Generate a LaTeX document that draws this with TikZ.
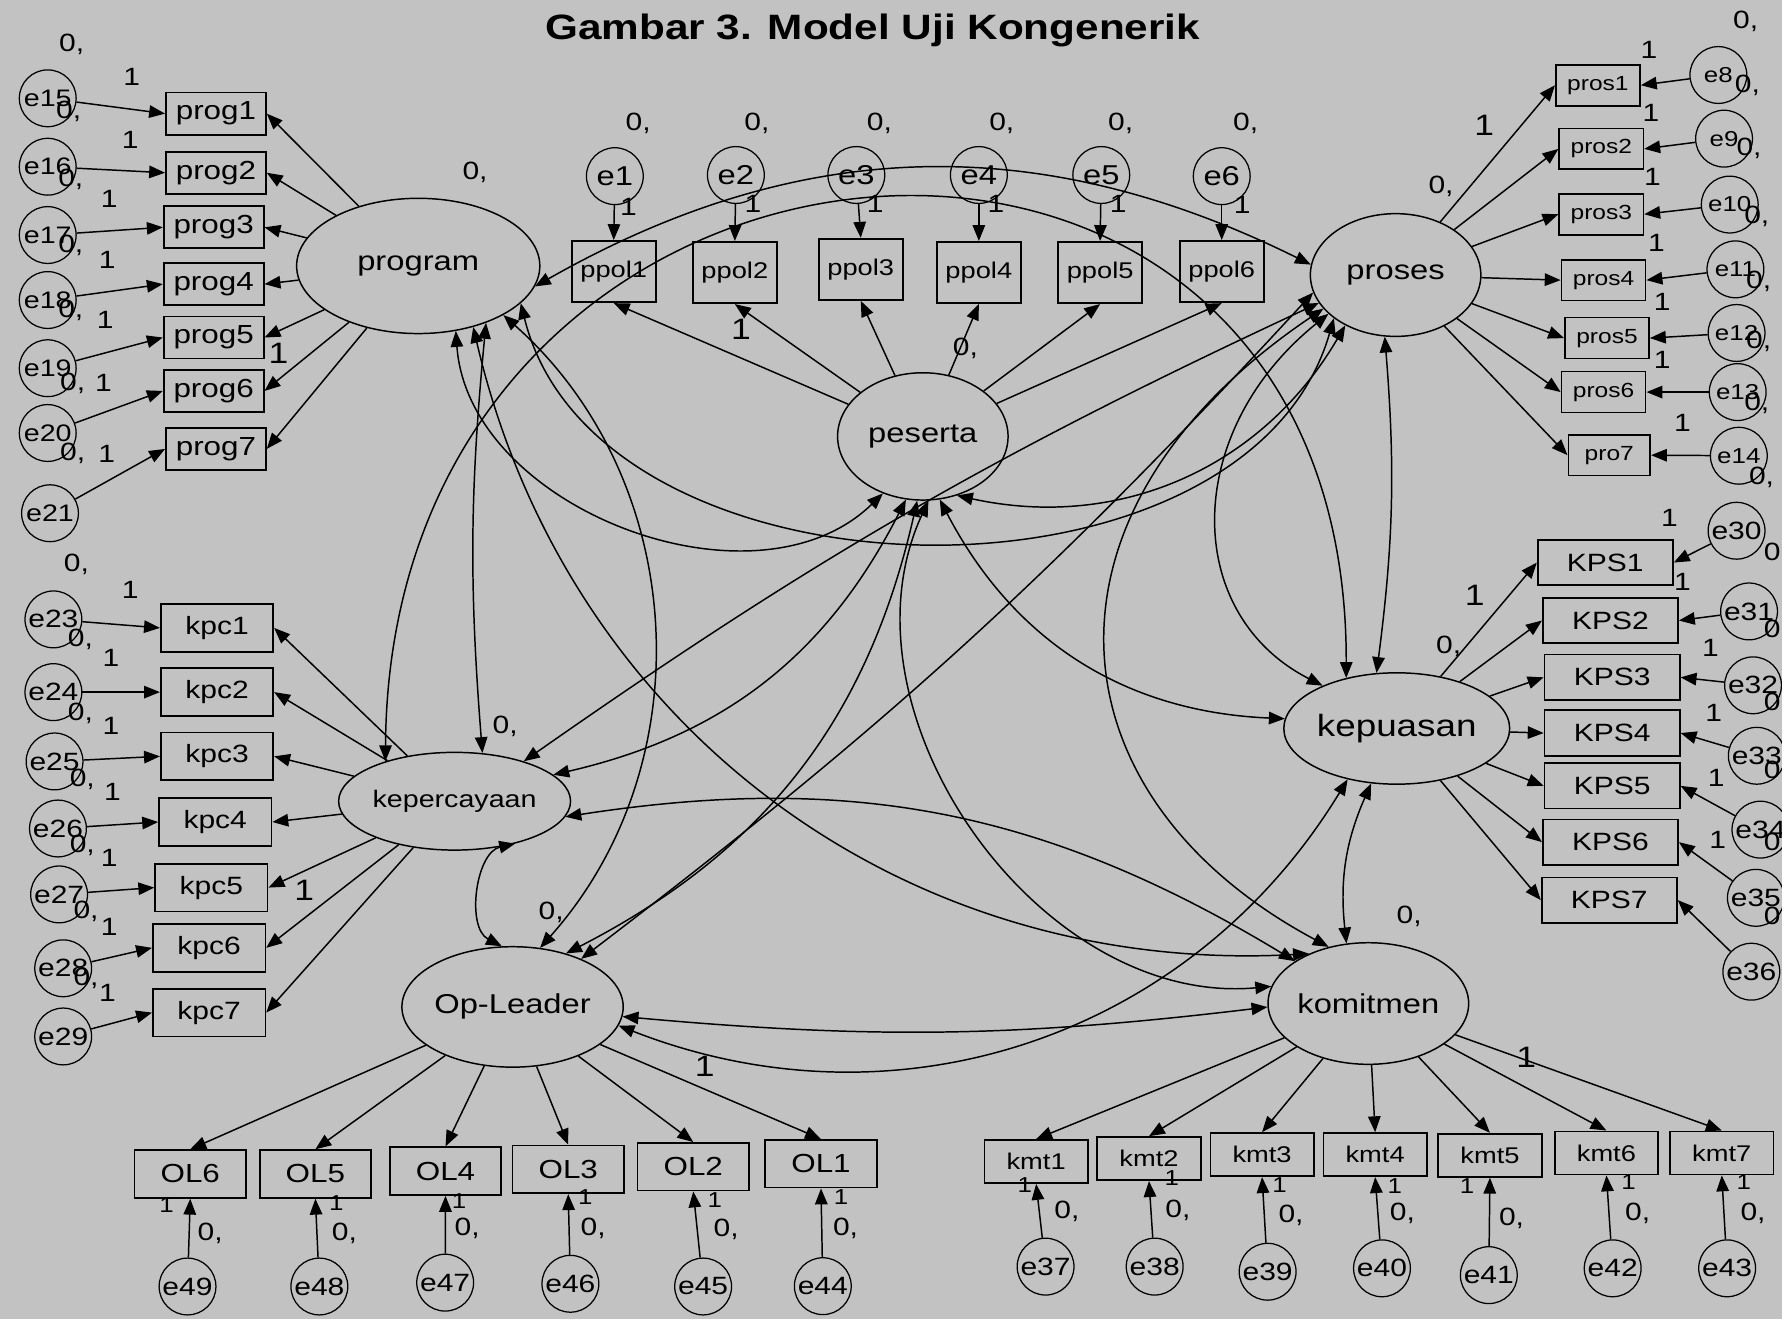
\documentclass[tikz,border=0pt]{standalone}
\usepackage{fontspec}
\setmainfont{Liberation Sans}[FakeStretch=1.2]
\usetikzlibrary{arrows.meta,shapes.geometric}
\definecolor{bg}{RGB}{194,194,194}
\newcommand\myfs[1]{\fontsize{#1}{#1}\selectfont}
\tikzset{
  lat/.style={ellipse,draw,line width=1.3pt,inner sep=0pt},
  obs/.style={rectangle,draw,line width=1.5pt,inner sep=0pt},
  err/.style={circle,draw,line width=1.1pt,minimum size=50pt,inner sep=0pt},
  ld/.style={-{Triangle[length=14pt,width=11pt]},line width=1.3pt},
  cov/.style={{Triangle[length=14pt,width=11pt]}-{Triangle[length=14pt,width=11pt]},line width=1.3pt},
  lab/.style={inner sep=0pt,font=\myfs{22}},
  labe/.style={inner sep=0pt,anchor=east,font=\myfs{22}},
  labb/.style={inner sep=0pt,font=\myfs{26}},
  labs/.style={inner sep=0pt,font=\myfs{19}},
}
\begin{document}
\begin{tikzpicture}[x=1pt,y=-1pt]
\path[fill=bg,use as bounding box] (0,0) rectangle (1568,1161);
\node[font=\bfseries\myfs{31}] (title) at (768,27) {Gambar 3. Model Uji Kongenerik};

% latent variables
\node[lat,minimum width=214pt,minimum height=119pt,font=\myfs{24}] (P) at (368,234) {program};
\node[lat,minimum width=150pt,minimum height=112pt,font=\myfs{24}] (S) at (812,384) {peserta};
\node[lat,minimum width=150pt,minimum height=108pt,font=\myfs{24}] (R) at (1228,242) {proses};
\node[lat,minimum width=176pt,minimum height=86pt,font=\myfs{21}] (K) at (400,705) {kepercayaan};
\node[lat,minimum width=172pt,minimum height=98pt,font=\myfs{27}] (Q) at (1229,641) {kepuasan};
\node[lat,minimum width=148pt,minimum height=106pt,font=\myfs{24}] (O) at (451,886) {Op-Leader};
\node[lat,minimum width=147pt,minimum height=107pt,font=\myfs{24}] (M) at (1204,883) {komitmen};

% observed boxes
\foreach \n/\x/\y in {1/190/100,2/190/152,3/188/200,4/188/250,5/188/297,6/188/344,7/190/395}
  \node[obs,minimum width=88pt,minimum height=37pt,font=\myfs{23}] (prog\n) at (\x,\y) {prog\n};
\foreach \n/\x/\y in {1/540/239,2/646.6/239.8,3/757.4/237,4/861.3/239.8,5/968/239.8,6/1075/239}
  \node[obs,minimum width=74pt,minimum height=54pt,font=\myfs{20}] (ppol\n) at (\x,\y) {ppol\n};
\foreach \n/\x/\y in {1/1406/75,2/1409/131,3/1409/188.5,4/1411/246.5,5/1414/297.5,6/1411/345}
  \node[obs,minimum width=74pt,minimum height=36pt,font=\myfs{18}] (pros\n) at (\x,\y) {pros\n};
\node[obs,minimum width=72pt,minimum height=36pt,font=\myfs{18}] (pros7) at (1416,400.5) {pro7};
\foreach \n/\x/\y in {1/191/552.5,2/191/609,3/191/665.5,4/189.4/723.3,5/186/781,6/184/834,7/184/891}
  \node[obs,minimum width=99pt,minimum height=42pt,font=\myfs{22}] (kpc\n) at (\x,\y) {kpc\n};
\foreach \n/\x/\y in {1/1412.5/495,2/1417/546,3/1418.5/596,4/1418.5/645,5/1418.5/691.5,6/1417/741,7/1416/792}
  \node[obs,minimum width=119pt,minimum height=40pt,font=\myfs{22}] (kps\n) at (\x,\y) {KPS\n};
\foreach \n/\x/\y in {1/722.4/1024,2/610/1026.6,3/500/1029,4/392/1030.5,5/277.5/1033,6/167.4/1033}
  \node[obs,minimum width=98pt,minimum height=42pt,font=\myfs{23}] (ol\n) at (\x,\y) {OL\n};
\foreach \n/\x/\y in {1/911.7/1022,2/1011/1019.5,3/1110.5/1016,4/1210/1016,5/1311/1016.5,6/1413.5/1014.5,7/1515/1014.5}
  \node[obs,minimum width=91pt,minimum height=38pt,font=\myfs{20}] (kmt\n) at (\x,\y) {kmt\n};

% error terms
\foreach \n/\x/\y in {15/42/86.5,16/42/146.7,17/42/206.8,18/42/264,19/42/324,20/42/381,21/44/451.6}
  \node[err,font=\myfs{21}] (e\n) at (\x,\y) {e\n};
\foreach \n/\x/\y in {1/541/155,2/647.5/154,3/753.5/154,4/861.3/154,5/969/154,6/1075/155}
  \node[err,font=\myfs{24}] (e\n) at (\x,\y) {e\n};
\foreach \n/\x/\y in {8/1512/66,9/1517/122,10/1522/180,11/1527/237,12/1528/293,13/1529/345,14/1530/401}
  \node[err,font=\myfs{19}] (e\n) at (\x,\y) {e\n};
\foreach \n/\x/\y in {23/47/545,24/47/609,25/48/670,26/51/729,27/52/787,28/55.6/852,29/55.6/912}
  \node[err,font=\myfs{22}] (e\n) at (\x,\y) {e\n};
\foreach \n/\x/\y in {30/1528/467,31/1539/538,32/1542.5/603,33/1545.8/665,34/1549/730,35/1545/790,36/1541/855}
  \node[err,font=\myfs{22}] (e\n) at (\x,\y) {e\n};
\foreach \n/\x/\y in {44/724/1131.7,45/618.7/1132,46/501.9/1129.6,47/391.7/1128.6,48/281/1132,49/165/1132}
  \node[err,font=\myfs{22}] (e\n) at (\x,\y) {e\n};
\foreach \n/\x/\y in {37/920/1114.5,38/1016/1114.5,39/1115.4/1119,40/1216/1116,41/1310/1122,42/1419/1116,43/1519.7/1116}
  \node[err,font=\myfs{22}] (e\n) at (\x,\y) {e\n};

% loadings
\foreach \b in {1,...,7} \draw[ld] (P) -- (prog\b.east);
\foreach \b in {1,...,6} \draw[ld] (S) -- (ppol\b.south);
\foreach \b in {1,...,7} \draw[ld] (R) -- (pros\b.west);
\foreach \b in {1,...,7} \draw[ld] (K) -- (kpc\b.east);
\foreach \b in {1,...,7} \draw[ld] (Q) -- (kps\b.west);
\foreach \b in {1,...,6} \draw[ld] (O) -- (ol\b.north);
\foreach \b in {1,...,7} \draw[ld] (M) -- (kmt\b.north);

% error paths
\foreach \e/\b in {15/1,16/2,17/3,18/4,19/5,20/6,21/7} \draw[ld] (e\e) -- (prog\b.west);
\foreach \b in {1,...,6} \draw[ld] (e\b) -- (ppol\b.north);
\foreach \e/\b in {8/1,9/2,10/3,11/4,12/5,13/6,14/7} \draw[ld] (e\e) -- (pros\b.east);
\foreach \e/\b in {23/1,24/2,25/3,26/4,27/5,28/6,29/7} \draw[ld] (e\e) -- (kpc\b.west);
\foreach \e/\b in {30/1,31/2,32/3,33/4,34/5,35/6,36/7} \draw[ld] (e\e) -- (kps\b.east);
\foreach \e/\b in {44/1,45/2,46/3,47/4,48/5,49/6} \draw[ld] (e\e) -- (ol\b.south);
\foreach \e/\b in {37/1,38/2,39/3,40/4,41/5,42/6,43/7} \draw[ld] (e\e) -- (kmt\b.south);

% covariances
\draw[cov] (P.-10) to[bend left=28] (R.173);
\draw[cov] (K.150) .. controls (343,60) and (1186,-10) .. (Q.135);
\draw[cov] (K.-35) to[bend right=70] (O.100);
\draw[cov] (P.-60) to[bend right=65] (S.-125);
\draw[cov] (P.-40) to[bend right=5] (K.60);
\draw[cov] (P.-30) to[bend left=45] (O.65);
\draw[cov] (P.-48) to[bend right=40] (M.140);
\draw[cov] (P.-20) to[bend right=75] (R.-145);
\draw[cov] (S.-60) to[bend right=36] (R.-135);
\draw[cov] (S.-105) to[bend left=25] (K.15);
\draw[cov] (S.-95) to[bend left=25] (O.45);
\draw[cov] (S.-75) to[bend right=30] (Q.175);
\draw[cov] (S.-85) to[bend right=60] (M.170);
\draw[cov] (R.-100) to[bend left=6] (Q.110);
\draw[cov] (R.-150) .. controls (1040,380) and (1040,540) .. (Q.150);
\draw[cov] (R.-160) to[bend right=5] (K.30);
\draw[cov] (R.-168) to[bend left=5] (O.35);
\draw[cov] (R.-155) .. controls (900,450) and (920,700) .. (M.125);
\draw[cov] (K.-8) to[bend left=20] (M.150);
\draw[cov] (Q.-134) to[bend left=40] (O.-10);
\draw[cov] (Q.-115) to[bend right=15] (M.110);
\draw[cov] (O.-5) to[bend right=6] (M.182);

% labels "0,"
\foreach \x/\y [count=\i] in {63/39,60.5/98,62.3/158,62.3/215.6,62.3/272.8,64/337,64/399,
  418/152,849.5/306.5,1268/164,444.5/639.4,1274.7/569,485/803,1240/806.6,
  561.5/108.5,666/108.5,773.8/108.5,881.5/108.5,986/108.5,1096/108.5,
  1536/19,1537.6/74.8,1539/130.5,1545.8/190.7,1547.4/247.8,1547.4/300.6,1545.8/354.7,1550/420,
  67.3/497,70.7/563,70.7/627.6,72.4/686,72.4/743.5,75.7/802,75.7/860.7,
  185/1085,303/1085,411/1081,522/1081,639/1082,744/1081,
  938.8/1066,1036.4/1064.8,1136/1069,1234/1067.6,1330/1072,1441/1067.6,1542.5/1067.6}
  \node[lab] (z\i) at (\x,\y) {0,};
% partly hidden "0" at the right edge
\foreach \y [count=\i] in {486,553,618,677,741,806}
  \node[labe] (ze\i) at (1567,\y) {0};
% labels "1"
\foreach \x/\y [count=\i] in {116/67.5,114.6/123,96/174.6,94.4/228.8,92.6/281.6,91/337,94/399,
  553/182,662.6/179,770/179,876.4/179,984/179,1093/180,
  1451/44,1452.7/99.7,1454/155.5,1457.6/214,1462.5/265.5,1462.5/316.8,1480.5/372.5,
  1469/456,1480.5/511.8,1505/570.5,1508/627.5,1510/684.8,1511.5/739,
  114.5/519,97.6/579,97.6/639,99/696.6,96/755,96/815.4,94.5/874}
  \node[lab] (o\i) at (\x,\y) {1};
\foreach \x/\y [count=\i] in {245/311,652/290,1306/110,267.7/783,1297.6/523.6,620/938.6,1343/930}
  \node[labb] (ob\i) at (\x,\y) {1};
\foreach \x/\y [count=\i] in {146.5/1060,296/1059,404/1057,515/1053,629/1056,740/1053,
  901.7/1042.7,1031/1036.7,1126/1043,1227.4/1044,1290.8/1044,1433/1040,1534.4/1040}
  \node[labs] (os\i) at (\x,\y) {1};
\end{tikzpicture}
\end{document}
